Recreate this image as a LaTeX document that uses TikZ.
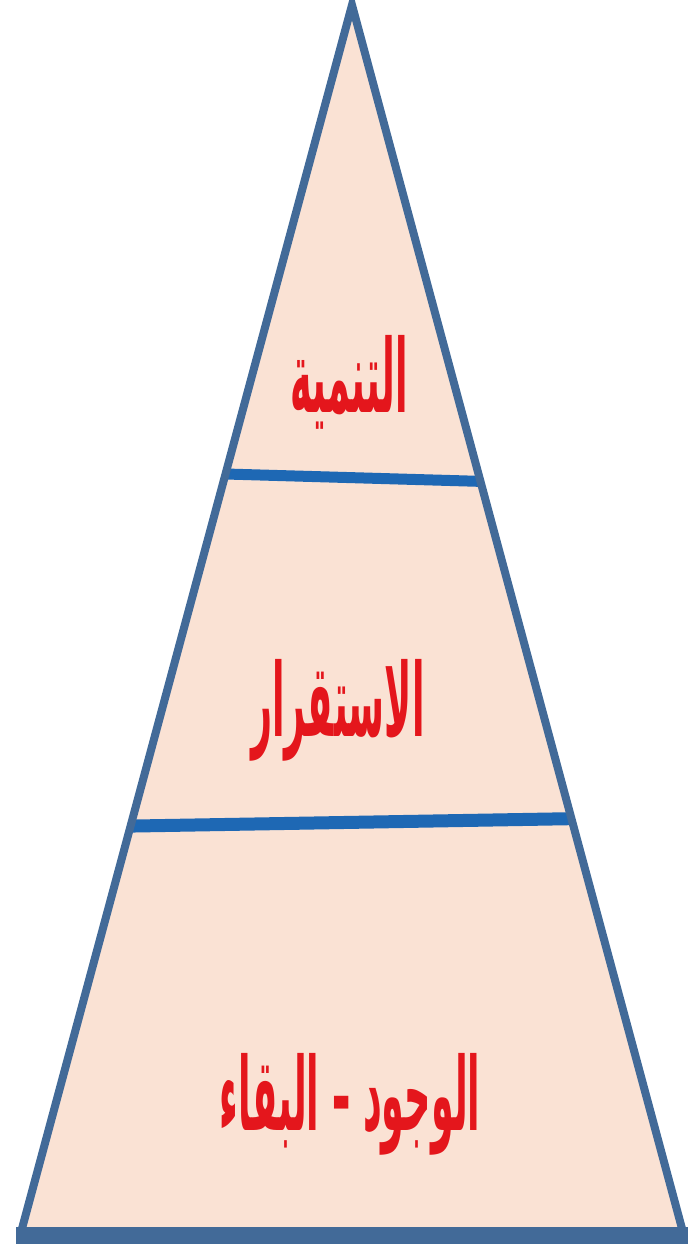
\documentclass[tikz,border=0pt]{standalone}
\usepackage{fontspec}
\newfontfamily\arabicfont[Script=Arabic]{DejaVu Sans}
\TeXXeTstate=1
\usetikzlibrary{calc}

\definecolor{sideblue}{RGB}{66,106,152}
\definecolor{barblue}{RGB}{30,104,180}
\definecolor{peach}{RGB}{250,226,212}
\definecolor{labelred}{RGB}{228,22,28}

\begin{document}
\begin{tikzpicture}[
  x=1pt, y=1pt,
  level/.style={font=\arabicfont\bfseries\fontsize{58}{62}\selectfont, text=labelred,
    inner sep=0pt, xscale=0.63, yscale=1.75, transform shape},
  side/.style={draw=sideblue, line width=8pt, line join=miter},
  bar/.style={draw=barblue, line width=11pt}
]
\useasboundingbox (0,0) rectangle (694,1248);

% corners of the pyramid
\coordinate (apex) at (352,1243);
\coordinate (bl) at (20,12);
\coordinate (br) at (684,12);

\fill[peach] (apex) -- (bl) -- (br) -- cycle;

% dividers between the levels
\coordinate (d1l) at ($(apex)!0.381!(bl)$);
\coordinate (d1r) at ($(apex)!0.387!(br)$);
\coordinate (d2l) at ($(apex)!0.667!(bl)$);
\coordinate (d2r) at ($(apex)!0.661!(br)$);
\draw[bar] (d1l) -- (d1r);
\draw[bar, line width=13pt] (d2l) -- (d2r);

\draw[side] (bl) -- (apex) -- (br);
\draw[draw=sideblue, line width=17pt] ($(bl)+(-4,0)$) -- ($(br)+(4,0)$);

\node[level] (top) at (349,866) {\beginR التنمية\endR};
\node[level] (mid) at (338,538) {\beginR الاستقرار\endR};
\node[level] (base) at (350,144) {\beginR الوجود – البقاء\endR};

\end{tikzpicture}
\end{document}
